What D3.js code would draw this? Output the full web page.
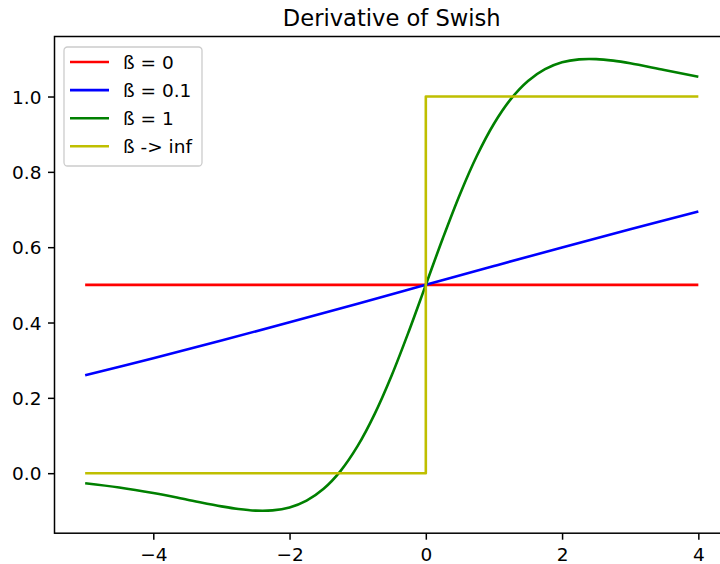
<!DOCTYPE html>
<html>
<head>
<meta charset="utf-8">
<script src="https://cdn.jsdelivr.net/npm/d3@7"></script>
<style>
  html, body { margin: 0; padding: 0; background: #ffffff; }
  svg { display: block; }
  text { font-family: "DejaVu Sans", sans-serif; fill: #000000; }
</style>
</head>
<body>
<svg id="chart" width="720" height="564"></svg>
<script>
// Derivative of Swish, f'(x) = s + b*x*s*(1 - s), for several values of beta
const seriesNames = ["ß = 0", "ß = 0.1", "ß = 1", "ß -> inf"];
const seriesColors = ["#ff0000", "#0000ff", "#008000", "#bfbf00"];

// beta = 0 : constant
const xBeta0 = [-5, 4];
const yBeta0 = [0.5, 0.5];

// beta = 0.1 : almost linear
const xBeta01 = [-5, -4, -3, -2, -1, 0, 1, 2, 3, 4];
const yBeta01 = [0.2600, 0.3052, 0.3522, 0.4007, 0.4501, 0.5, 0.5499, 0.5993, 0.6478, 0.6948];

// beta = 1
const xBeta1 = [-5, -4.5, -4, -3.5, -3, -2.75, -2.5, -2.25, -2, -1.75, -1.5, -1.25, -1, -0.75, -0.5, -0.25,
                0, 0.25, 0.5, 0.75, 1, 1.25, 1.5, 1.75, 2, 2.25, 2.5, 2.75, 3, 3.5, 4];
const yBeta1 = [-0.0266, -0.0379, -0.0527, -0.0703, -0.0881, -0.0952, -0.0994, -0.0987, -0.0908, -0.0727,
                -0.0413, 0.0063, 0.0723, 0.1574, 0.2600, 0.3763, 0.5, 0.6237, 0.7400, 0.8426, 0.9277,
                0.9937, 1.0413, 1.0727, 1.0908, 1.0987, 1.0994, 1.0952, 1.0881, 1.0703, 1.0527];

// beta -> infinity : unit step
const xBetaInf = [-5, 0, 0, 4];
const yBetaInf = [0, 0, 1, 1];

const xTicks = [-4, -2, 0, 2, 4];
const yTicks = [0.0, 0.2, 0.4, 0.6, 0.8, 1.0];

const seriesX = [xBeta0, xBeta01, xBeta1, xBetaInf];
const seriesY = [yBeta0, yBeta01, yBeta1, yBetaInf];
const seriesCurves = [d3.curveLinear, d3.curveCatmullRom, d3.curveCatmullRom, d3.curveLinear];

const svg = d3.select("#chart");
const plot = { left: 54.5, right: 729, top: 36.5, bottom: 533.2 };

// data limits with 5% padding on each side
const allX = seriesX.flat(), allY = seriesY.flat();
const [x0, x1] = d3.extent(allX), [y0, y1] = d3.extent(allY);
const padX = (x1 - x0) * 0.05, padY = (y1 - y0) * 0.05;

const x = d3.scaleLinear().domain([x0 - padX, x1 + padX]).range([plot.left, plot.right]);
const y = d3.scaleLinear().domain([y0 - padY, y1 + padY]).range([plot.bottom, plot.top]);

const tickFont = 18.5;

// lines
const lineGroup = svg.append("g");
seriesNames.forEach((name, i) => {
  const pts = seriesX[i].map((v, j) => [v, seriesY[i][j]]);
  const gen = d3.line().x(d => x(d[0])).y(d => y(d[1])).curve(seriesCurves[i]);
  lineGroup.append("path")
    .attr("d", gen(pts))
    .attr("fill", "none")
    .attr("stroke", seriesColors[i])
    .attr("stroke-width", 2.6)
    .attr("stroke-linejoin", "round");
});

// axes
const xAxis = d3.axisBottom(x).tickValues(xTicks).tickSize(6.5).tickPadding(6.5).tickFormat(d3.format("d"));
const yAxis = d3.axisLeft(y).tickValues(yTicks).tickSize(6.5).tickPadding(6.5).tickFormat(d3.format(".1f"));

const gx = svg.append("g").attr("transform", `translate(0,${plot.bottom})`).call(xAxis);
const gy = svg.append("g").attr("transform", `translate(${plot.left},0)`).call(yAxis);

[gx, gy].forEach(g => {
  g.select(".domain").remove();
  g.selectAll(".tick line").attr("stroke", "#000").attr("stroke-width", 1.5);
  g.selectAll(".tick text")
    .attr("font-family", "DejaVu Sans, sans-serif")
    .attr("font-size", tickFont)
    .attr("fill", "#000");
});
gx.selectAll(".tick text").attr("dy", "0.78em");
gy.selectAll(".tick text").attr("dy", "0.36em");

// frame
svg.append("rect")
  .attr("x", plot.left).attr("y", plot.top)
  .attr("width", plot.right - plot.left).attr("height", plot.bottom - plot.top)
  .attr("fill", "none").attr("stroke", "#000").attr("stroke-width", 1.5);

// title
svg.append("text")
  .attr("x", (plot.left + plot.right) / 2)
  .attr("y", 26)
  .attr("text-anchor", "middle")
  .attr("font-size", 22.6)
  .text("Derivative of Swish");

// legend
const legend = svg.append("g");
legend.append("rect")
  .attr("x", 64).attr("y", 47).attr("width", 138).attr("height", 119)
  .attr("rx", 3.5)
  .attr("fill", "#ffffff").attr("fill-opacity", 0.8)
  .attr("stroke", "#cccccc").attr("stroke-width", 1.3);
seriesNames.forEach((name, i) => {
  const cy = 62 + i * 28.1;
  legend.append("line")
    .attr("x1", 70).attr("x2", 109).attr("y1", cy).attr("y2", cy)
    .attr("stroke", seriesColors[i]).attr("stroke-width", 2.6);
  legend.append("text")
    .attr("x", 123).attr("y", cy).attr("dy", "0.36em")
    .attr("font-size", tickFont)
    .text(name);
});
</script>
</body>
</html>
